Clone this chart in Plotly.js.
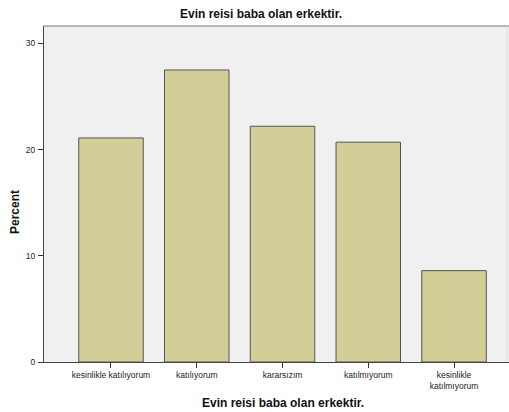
<!DOCTYPE html>
<html>
<head>
<meta charset="utf-8">
<script src="https://cdn.plot.ly/plotly-3.0.1.min.js"></script>
<style>html,body{margin:0;padding:0;background:#fff;}#chart{width:509px;height:412px;}</style>
</head>
<body>
<div id="chart"></div>
<script>
var categories = ["kesinlikle katılıyorum", "katılıyorum", "kararsızım", "katılmıyorum", "kesinlikle<br>katılmıyorum"];
var percents = [21.1, 27.5, 22.2, 20.7, 8.6];
var yTickVals = [0, 10, 20, 30];
var chartTitle = "Evin reisi baba olan erkektir.";
var xTitle = "Evin reisi baba olan erkektir.";
var yTitle = "Percent";

var idx = categories.map(function (_, i) { return i; });

var trace = {
  type: 'bar',
  x: idx,
  y: percents,
  width: 0.752,
  marker: { color: '#d3ce98', line: { color: '#555555', width: 1 } },
  hoverinfo: 'none'
};

var layout = {
  width: 509, height: 412,
  margin: { l: 44, r: 0, t: 26, b: 50 },
  paper_bgcolor: '#ffffff',
  plot_bgcolor: '#f0f0f0',
  font: { family: 'Liberation Sans, Arial, sans-serif', size: 8.5, color: '#222' },
  showlegend: false,
  bargap: 0,
  title: {
    text: '<b>' + chartTitle + '</b>',
    font: { size: 12, color: '#111', family: 'Liberation Sans, Arial, sans-serif' },
    xref: 'container', x: 261 / 509, xanchor: 'center',
    yref: 'container', y: 1 - 14 / 412, yanchor: 'middle'
  },
  xaxis: {
    range: [-0.781, 4.641],
    tickvals: idx,
    ticktext: categories,
    ticks: 'outside', ticklen: 5, tickcolor: '#333', tickwidth: 1,
    showline: true, linecolor: '#444', linewidth: 1, mirror: false,
    showgrid: false, zeroline: false,
    tickfont: { size: 8.5, color: '#222' },
    fixedrange: true
  },
  yaxis: {
    range: [0, 31.64],
    tickvals: yTickVals,
    ticks: 'outside', ticklen: 5, tickcolor: '#333', tickwidth: 1,
    showline: true, linecolor: '#444', linewidth: 1,
    showgrid: false, zeroline: false,
    tickfont: { size: 8.5, color: '#222' },
    ticklabelstandoff: 1,
    fixedrange: true
  },
  shapes: [
    { type: 'line', xref: 'paper', yref: 'paper', x0: 0, x1: 1, y0: 1, y1: 1,
      line: { color: '#777', width: 1 } },
    { type: 'line', xref: 'paper', yref: 'paper', x0: 0.996, x1: 0.996, y0: 0, y1: 1,
      line: { color: '#dddddd', width: 1 } }
  ],
  annotations: [
    {
      text: '<b>' + xTitle + '</b>',
      xref: 'x', x: 2, yref: 'paper', y: -41 / 336, yanchor: 'middle',
      showarrow: false, font: { size: 12, color: '#111' }
    },
    {
      text: '<b>' + yTitle + '</b>',
      xref: 'paper', x: -29 / 465, xanchor: 'center',
      yref: 'paper', y: (362 - 212) / 336, yanchor: 'middle',
      textangle: -90,
      showarrow: false, font: { size: 12, color: '#111' }
    }
  ]
};

Plotly.newPlot('chart', [trace], layout, { displayModeBar: false, staticPlot: true });
</script>
</body>
</html>
